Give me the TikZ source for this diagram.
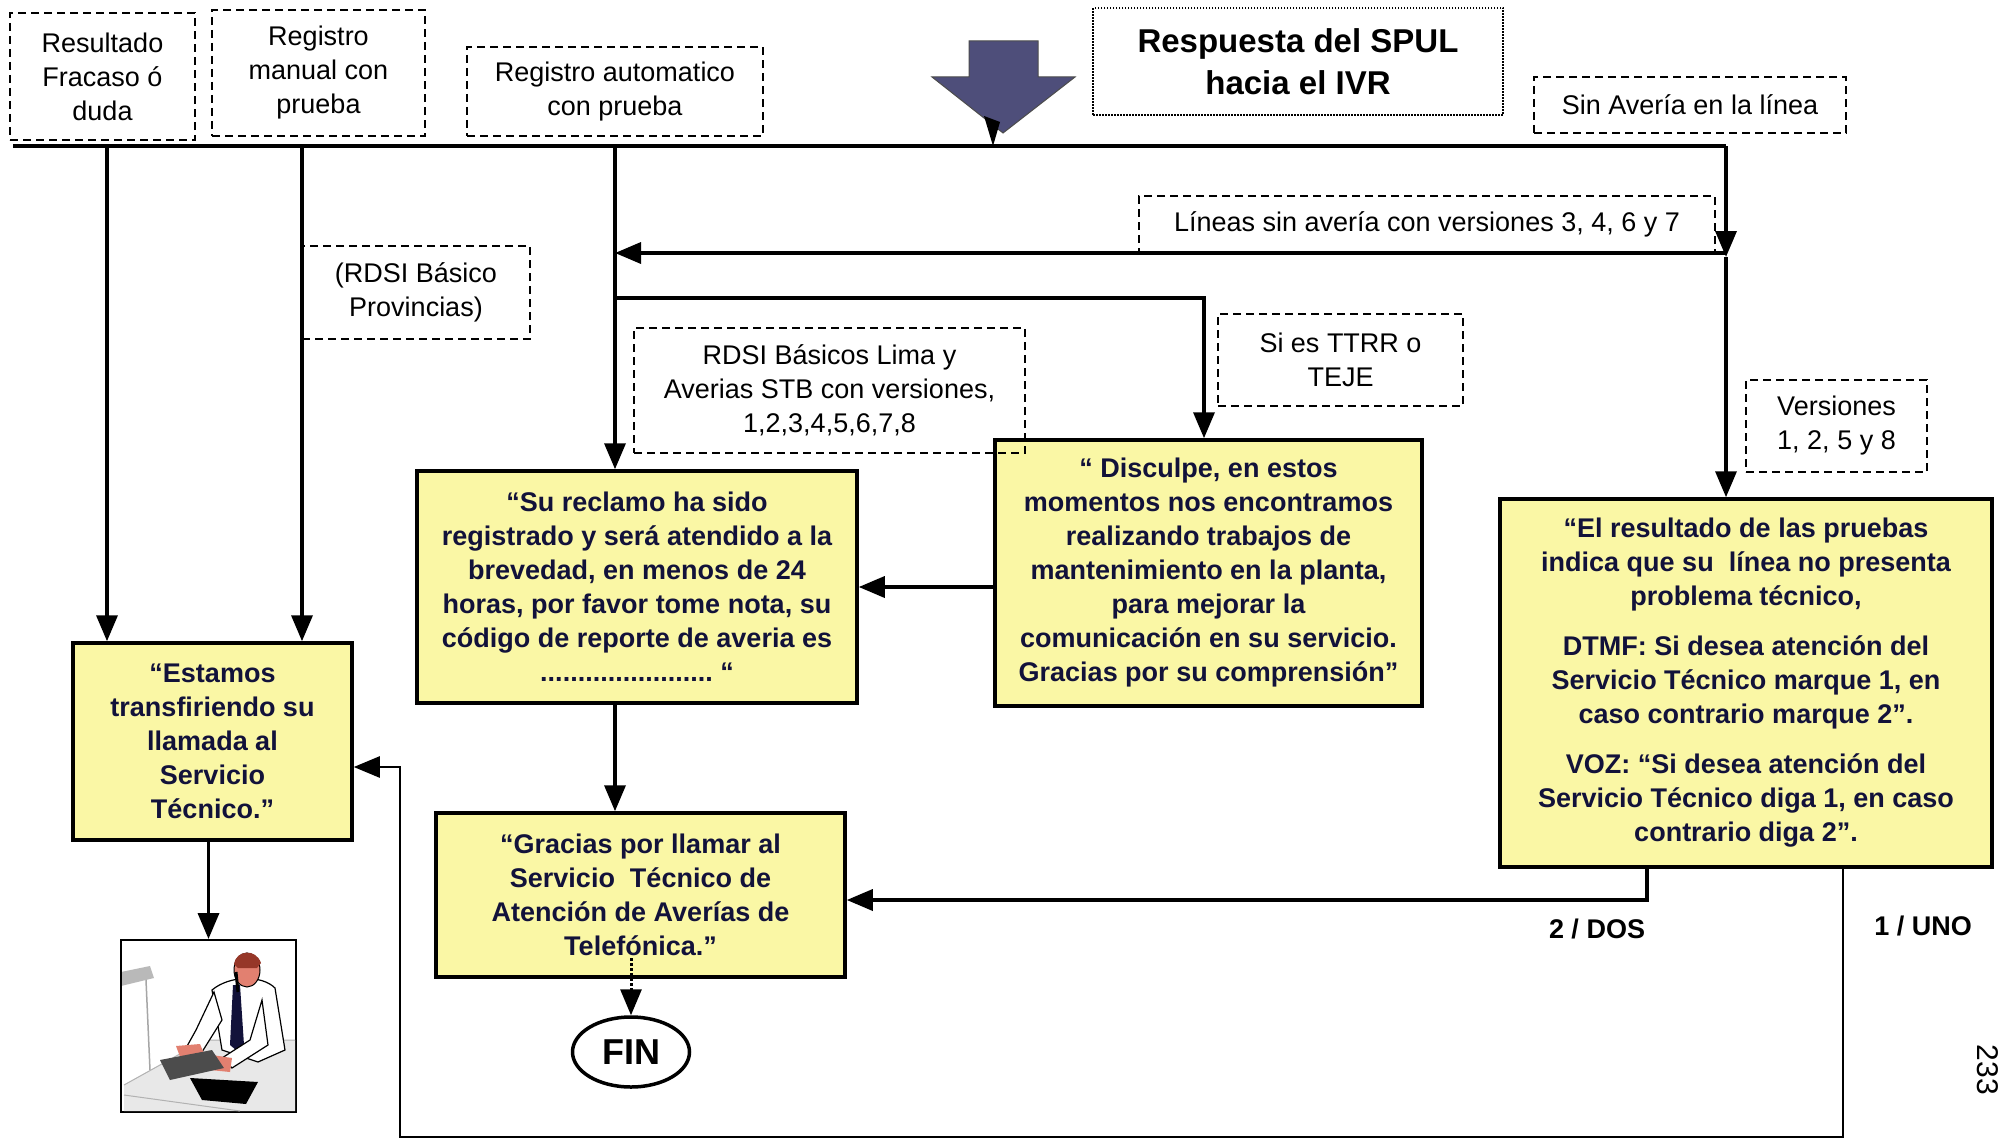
\documentclass[tikz,border=0pt]{standalone}
\usepackage{fontspec}
\setmainfont{Liberation Sans}
\usetikzlibrary{arrows.meta,shapes.geometric}
\definecolor{boxyellow}{RGB}{250,247,165}
\definecolor{inkblue}{RGB}{18,18,58}
\definecolor{slate}{RGB}{78,78,122}
\definecolor{skin}{RGB}{226,128,112}
\definecolor{hair}{RGB}{150,55,40}

\begin{document}
\begin{tikzpicture}[x=1pt,y=-1pt,
  >={Triangle[length=26pt,width=21pt]},
  note/.style={draw, line width=2.2pt, dash pattern=on 8pt off 5pt, align=center,
    inner sep=0pt, font=\fontsize{27}{34}\selectfont},
  msg/.style={draw, line width=3.5pt, fill=boxyellow, text=inkblue, align=center,
    inner sep=0pt, font=\bfseries\fontsize{27}{34}\selectfont},
  flow/.style={line width=3.5pt},
  thinflow/.style={line width=2.5pt},
  choice/.style={font=\bfseries\fontsize{27}{34}\selectfont}
]
\useasboundingbox (0,0) rectangle (2000,1140);
\fill[white] (0,0) rectangle (2000,1140);

% ---- entry arrow ----
\fill[slate, draw=black!70, line width=1pt]
  (969,41) -- (1038,41) -- (1038,77) -- (1075,77) -- (1003,133) -- (932,77) -- (969,77) -- cycle;
\fill[black] (984,116) -- (1000,122) -- (993,146) -- cycle;

% ---- top labels ----
\node[note, minimum width=185pt, minimum height=127pt] (fracaso) at (102.5,76.5) {Resultado\\Fracaso ó\\duda};
\node[note, minimum width=213pt, minimum height=126pt] (manual) at (318.5,73) {Registro\\manual con\\prueba};
\node[note, minimum width=296pt, minimum height=89pt] (auto) at (615,91.5) {Registro automatico\\con prueba};
\node[draw, line width=2pt, dash pattern=on 1.5pt off 1.5pt, minimum width=410pt, minimum height=107pt,
  align=center, inner sep=0pt, font=\bfseries\fontsize{33}{42}\selectfont] (spul) at (1298,61.5)
  {Respuesta del SPUL\\hacia el IVR};
\node[note, minimum width=312pt, minimum height=56pt] (sinaveria) at (1690,105) {Sin Avería en la línea};
\node[note, minimum width=576pt, minimum height=57pt] (lineas) at (1427,224.5) {Líneas sin avería con versiones 3, 4, 6 y 7};
\node[note, minimum width=228pt, minimum height=93pt] (prov) at (416,292.5) {(RDSI Básico\\Provincias)};
\node[note, minimum width=245pt, minimum height=92pt] (ttrr) at (1340.5,360) {Si es TTRR o\\TEJE};
\node[note, minimum width=181pt, minimum height=92pt] (vers) at (1836.5,426) {Versiones\\1, 2, 5 y 8};

% ---- messages ----
\node[msg, minimum width=440pt, minimum height=232pt] (reclamo) at (637,587)
  {“Su reclamo ha sido\\registrado y será atendido a la\\brevedad, en menos de 24\\horas, por favor tome nota, su\\código de reporte de averia es\\.......................\ “};
\node[msg, minimum width=427pt, minimum height=266pt] (disculpe) at (1208.5,573)
  {“ Disculpe, en estos\\momentos nos encontramos\\realizando trabajos de\\mantenimiento en la planta,\\para mejorar la\\comunicación en su servicio.\\Gracias por su comprensión”};
\node[msg, minimum width=492pt, minimum height=368pt] (resultado) at (1746,683)
  {“El resultado de las pruebas\\indica que su\ \ línea no presenta\\problema técnico,\\[16pt]DTMF: Si desea atención del\\Servicio Técnico marque 1, en\\caso contrario marque 2”.\\[16pt]VOZ: “Si desea atención del\\Servicio Técnico diga 1, en caso\\contrario diga 2”.};
\node[msg, minimum width=279pt, minimum height=197pt] (estamos) at (212.5,741.5)
  {“Estamos\\transfiriendo su\\llamada al\\Servicio\\Técnico.”};
\node[msg, minimum width=409pt, minimum height=164pt] (gracias) at (640.5,895)
  {“Gracias por llamar al\\Servicio\ \ Técnico de\\Atención de Averías de\\Telefónica.”};
\node[draw, ellipse, line width=3.5pt, minimum width=117pt, minimum height=70pt, inner sep=0pt,
  font=\bfseries\fontsize{36}{36}\selectfont] (fin) at (631,1052) {FIN};

% label drawn over the corner of the maintenance message
\node[note, minimum width=391pt, minimum height=125pt] (lima) at (829.5,390.5)
  {RDSI Básicos Lima y\\Averias STB con versiones,\\1,2,3,4,5,6,7,8};

% ---- agent picture ----
\node[draw, line width=2pt, fill=white, minimum width=175pt, minimum height=172pt, inner sep=0pt] (agente) at (208.5,1026) {};
\begin{scope}
  \clip (122,941) rectangle (295,1111);
  % lamp
  \fill[gray!55] (121,972) -- (150,966) -- (154,978) -- (121,986) -- cycle;
  \draw[gray!70, line width=1.5pt] (146,980) -- (150,1070);
  % desk
  \fill[gray!18] (124,1085) -- (205,1040) -- (295,1040) -- (295,1111) -- (124,1111) -- cycle;
  \draw[gray!60, line width=1pt] (124,1085) -- (205,1040) -- (295,1040);
  \draw[gray!60, line width=1pt] (124,1095) -- (240,1111);
  % torso and shirt
  \fill[white, draw=black, line width=1.2pt] (212,990) .. controls (230,975) and (262,975) .. (275,988)
    -- (285,1050) -- (258,1062) -- (222,1050) -- cycle;
  % tie
  \fill[inkblue] (233,985) -- (240,985) -- (244,1045) -- (236,1050) -- (230,1045) -- cycle;
  % arms
  \fill[white, draw=black, line width=1.2pt] (214,992) -- (196,1030) -- (186,1048) -- (202,1052) -- (222,1020) -- cycle;
  \fill[white, draw=black, line width=1.2pt] (262,1000) -- (250,1040) -- (222,1058) -- (232,1068) -- (268,1045) -- cycle;
  % hands
  \fill[skin] (176,1046) -- (200,1044) -- (206,1058) -- (182,1062) -- cycle;
  \fill[skin] (212,1055) -- (232,1058) -- (230,1072) -- (210,1070) -- cycle;
  % head and hair
  \fill[skin, draw=black, line width=1pt] (247,970) ellipse (13pt and 17pt);
  \fill[hair] (234,964) .. controls (236,950) and (256,948) .. (261,963) -- (257,968) -- (238,968) -- cycle;
  % phone receiver
  \draw[black, line width=3pt] (236,972) -- (238,992);
  % keyboard and telephone
  \fill[black!70] (160,1060) -- (212,1050) -- (224,1068) -- (170,1080) -- cycle;
  \fill[black] (190,1078) -- (258,1082) -- (246,1104) -- (202,1100) -- cycle;
\end{scope}

% ---- connectors ----
\coordinate (busw) at (13,146);
\coordinate (buse) at (1726,146);
\coordinate (j1) at (107,146);
\coordinate (j2) at (302,146);
\coordinate (j3) at (615,146);
\coordinate (k4) at (1726,257);
\coordinate (h4) at (1726,253);
\coordinate (b3) at (615,298);
\coordinate (b4) at (1204,298);
\coordinate (dos) at (1647,900);
\coordinate (uno) at (1843,1137);
\coordinate (ret) at (400,1137);
\coordinate (retup) at (400,767);
\coordinate (finin) at (631,958);

\draw[flow] (busw) -- (buse);
\draw[flow,->] (j1) -- (j1 |- estamos.north);
\draw[flow,->] (j2) -- (j2 |- estamos.north);
\draw[flow,->] (j3) -- (j3 |- reclamo.north);
\draw[flow,->] (buse) -- (k4);
\draw[flow,->] (k4) -- (k4 |- resultado.north);
\draw[flow,->] (h4) -- (h4 -| j3);
\draw[flow,->] (b3) -- (b4) -- (b4 |- disculpe.north);
\draw[flow,->] (disculpe.west |- reclamo.east) -- (reclamo.east);
\draw[flow,->] (reclamo.south -| j3) -- (gracias.north -| j3);
\draw[line width=3pt, dotted, ->] (finin) -- (fin.north);
\draw[flow,->] (resultado.south -| dos) -- (dos) -- (gracias.east |- dos);
\draw[thinflow,->] (resultado.south -| uno) -- (uno) -- (ret) -- (retup) -- (retup -| estamos.east);
\draw[flow,->] (estamos.south -| agente.north) -- (agente.north);

% ---- option labels ----
\node[choice] (doslbl) at (1597,929) {2 / DOS};
\node[choice] (unolbl) at (1923,926) {1 / UNO};
\node[rotate=-90, font=\fontsize{30}{30}\selectfont] (pagina) at (1988,1070) {233};
\end{tikzpicture}
\end{document}
